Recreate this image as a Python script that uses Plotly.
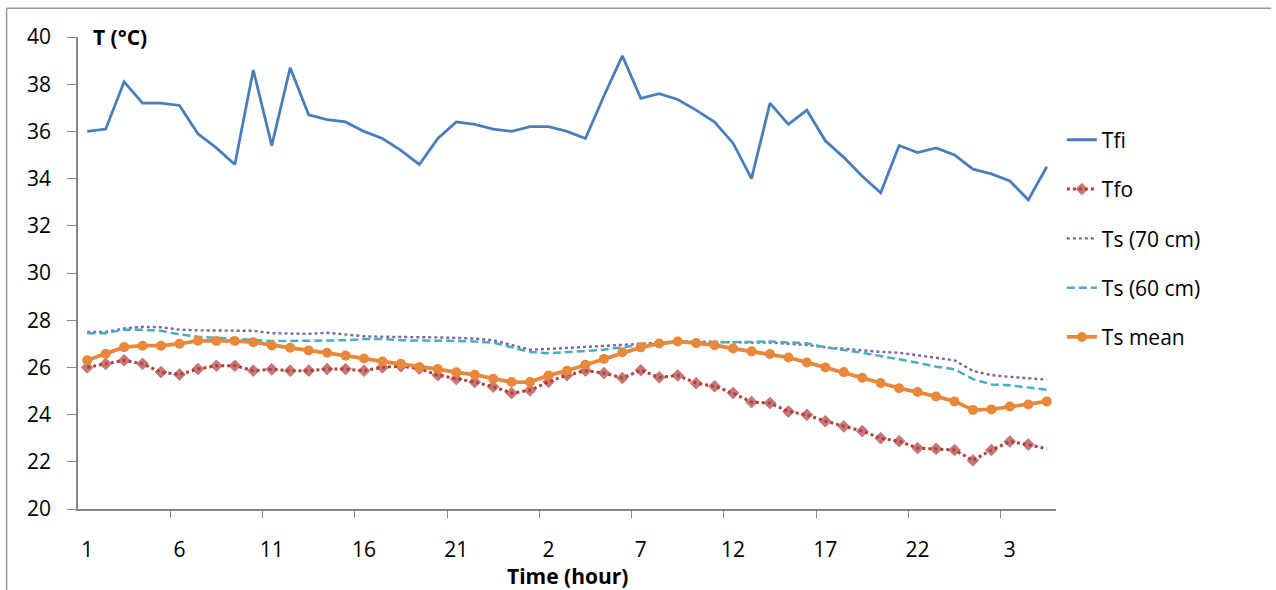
import plotly.graph_objects as go

# Hour labels along the time axis (three consecutive days, 53 hourly readings)
hours = list(range(1, 25)) + list(range(1, 25)) + list(range(1, 6))
label_every = 5

# Temperatures in °C
t_fi = [36.0, 36.1, 38.1, 37.2, 37.2, 37.1, 35.9, 35.3, 34.6, 38.6,
        35.4, 38.7, 36.7, 36.5, 36.4, 36.0, 35.7, 35.2, 34.6, 35.7,
        36.4, 36.3, 36.1, 36.0, 36.2, 36.2, 36.0, 35.7, 37.5, 39.2,
        37.4, 37.6, 37.35, 36.9, 36.4, 35.5, 34.0, 37.2, 36.3, 36.9,
        35.6, 34.9, 34.1, 33.4, 35.4, 35.1, 35.3, 35.0, 34.4, 34.2,
        33.9, 33.1, 34.5]
t_fo = [26.0, 26.15, 26.3, 26.15, 25.8, 25.7, 25.93, 26.07, 26.07, 25.86,
        25.92, 25.86, 25.86, 25.93, 25.93, 25.86, 26.0, 26.05, 25.95, 25.67,
        25.51, 25.38, 25.18, 24.91, 25.03, 25.39, 25.67, 25.86, 25.76, 25.55,
        25.88, 25.58, 25.66, 25.33, 25.2, 24.91, 24.53, 24.49, 24.13, 23.99,
        23.72, 23.5, 23.3, 23.0, 22.87, 22.58, 22.55, 22.5, 22.06, 22.5,
        22.86, 22.73, 22.55]
t_s70 = [27.5, 27.5, 27.65, 27.72, 27.7, 27.6, 27.57, 27.57, 27.57, 27.55,
         27.45, 27.42, 27.42, 27.47, 27.38, 27.32, 27.3, 27.3, 27.28, 27.27,
         27.25, 27.22, 27.15, 26.95, 26.75, 26.78, 26.82, 26.85, 26.9, 26.95,
         27.0, 27.05, 27.1, 27.1, 27.08, 27.05, 27.05, 27.05, 27.0, 26.95,
         26.85, 26.78, 26.72, 26.66, 26.62, 26.52, 26.42, 26.3, 25.85, 25.67,
         25.6, 25.55, 25.48]
t_s60 = [27.45, 27.45, 27.6, 27.6, 27.55, 27.4, 27.3, 27.25, 27.2, 27.15,
         27.12, 27.12, 27.12, 27.12, 27.15, 27.2, 27.2, 27.15, 27.15, 27.15,
         27.12, 27.1, 27.05, 26.85, 26.65, 26.6, 26.65, 26.7, 26.75, 26.85,
         26.95, 27.0, 27.05, 27.05, 27.05, 27.08, 27.08, 27.1, 27.05, 27.02,
         26.85, 26.75, 26.62, 26.48, 26.35, 26.2, 26.03, 25.92, 25.5, 25.28,
         25.24, 25.13, 25.05]
t_smean = [26.3, 26.58, 26.86, 26.92, 26.92, 27.0, 27.13, 27.12, 27.12, 27.07,
           26.93, 26.83, 26.72, 26.62, 26.5, 26.38, 26.25, 26.15, 26.02, 25.93,
           25.79, 25.69, 25.52, 25.38, 25.38, 25.66, 25.86, 26.11, 26.36, 26.64,
           26.85, 27.01, 27.1, 27.03, 26.94, 26.8, 26.68, 26.57, 26.42, 26.21,
           26.0, 25.8, 25.56, 25.34, 25.12, 24.96, 24.77, 24.56, 24.2, 24.22,
           24.34, 24.43, 24.56]

n = len(hours)
x = list(range(n))
label_pos = list(range(0, n, label_every))
label_text = [str(hours[i]) for i in label_pos]
boundary_ticks = [i - 0.5 for i in range(label_every, n, label_every)]

FONT = "'Open Sans', Lato, sans-serif"
AXIS_GREY = "#868686"
RED = "#B0403D"
ORANGE = "#E8883A"

fig = go.Figure()

fig.add_trace(go.Scatter(
    x=x, y=t_fi, name="Tfi", mode="lines", legendgroup="a",
    line=dict(color="#4A7EBB", width=2.8)))

fo_sizes = [9] * (n - 1) + [0]
fig.add_trace(go.Scatter(
    x=x, y=t_fo, name="Tfo", mode="lines+markers", legendgroup="b",
    line=dict(color=RED, width=3, dash="dot"),
    marker=dict(symbol="diamond", size=fo_sizes, color=RED,
                line=dict(color=RED, width=1))))

fig.add_trace(go.Scatter(
    x=x, y=t_s70, name="Ts (70 cm)", mode="lines", legendgroup="c",
    line=dict(color="#8064A2", width=2.4, dash="dot")))

fig.add_trace(go.Scatter(
    x=x, y=t_s60, name="Ts (60 cm)", mode="lines", legendgroup="d",
    line=dict(color="#4BACC6", width=2.5, dash="8px,4px")))

fig.add_trace(go.Scatter(
    x=x, y=t_smean, name="Ts mean", mode="lines+markers", legendgroup="e",
    line=dict(color=ORANGE, width=3.8),
    marker=dict(symbol="circle", size=10, color=ORANGE)))

# invisible helper trace so the label axis is drawn
fig.add_trace(go.Scatter(
    x=[0], y=[20], xaxis="x2", mode="markers", showlegend=False,
    hoverinfo="skip", marker=dict(opacity=0)))

fig.update_layout(
    width=1276, height=590,
    margin=dict(l=78, r=220, t=37, b=81),
    paper_bgcolor="white", plot_bgcolor="white",
    font=dict(family=FONT, size=21, color="black"),
    showlegend=True,
    legend=dict(x=1.006, xanchor="left", y=0.825, yanchor="top",
                tracegroupgap=19, font=dict(size=21),
                bgcolor="rgba(0,0,0,0)"),
    xaxis=dict(range=[-0.5, n - 0.5], showgrid=False, zeroline=False,
               showline=True, linecolor=AXIS_GREY, linewidth=1.5,
               tickmode="array", tickvals=boundary_ticks,
               ticks="outside", ticklen=7, tickcolor=AXIS_GREY,
               showticklabels=False),
    xaxis2=dict(overlaying="x", range=[-0.5, n - 0.5], showgrid=False,
                zeroline=False, showline=False, side="bottom",
                tickmode="array", tickvals=label_pos, ticktext=label_text,
                ticks="outside", ticklen=22, tickcolor="rgba(0,0,0,0)",
                tickfont=dict(size=21)),
    yaxis=dict(range=[20, 40], dtick=2, showgrid=False, zeroline=False,
               showline=True, linecolor=AXIS_GREY, linewidth=1.5,
               ticks="outside", ticklen=9, tickcolor=AXIS_GREY,
               ticklabelstandoff=12, tickfont=dict(size=21)),
    annotations=[
        dict(text="<b>T (°C)</b>", xref="paper", yref="paper",
             x=0.013, y=1.0, xanchor="left", yanchor="middle",
             showarrow=False, font=dict(size=21)),
        dict(text="<b>Time (hour)</b>", xref="paper", yref="paper",
             x=0.5, y=-0.142, xanchor="center", yanchor="middle",
             showarrow=False, font=dict(size=21)),
    ],
    shapes=[
        dict(type="line", xref="paper", yref="paper",
             x0=-0.073, x1=1.22, y0=1.061, y1=1.061,
             line=dict(color="#9A9A9A", width=1.5)),
        dict(type="line", xref="paper", yref="paper",
             x0=-0.073, x1=-0.073, y0=1.061, y1=-0.2,
             line=dict(color="#9A9A9A", width=1.5)),
    ],
)

fig.write_html("out.html")
